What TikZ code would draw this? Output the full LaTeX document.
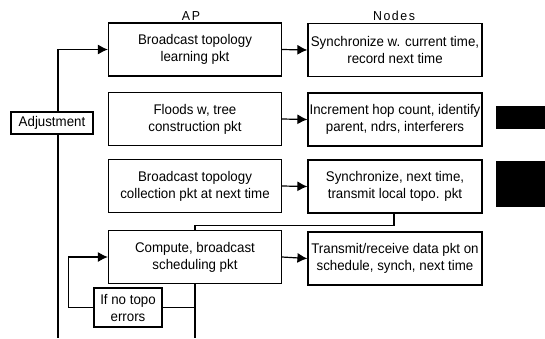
\documentclass[tikz,border=0pt]{standalone}
\usepackage{fontspec}
\setmainfont{Liberation Sans}[FakeStretch=0.95]
\usetikzlibrary{arrows.meta}

\begin{document}
\begin{tikzpicture}[x=1pt,y=-1pt,line width=1.2pt,
    >={Latex[length=10pt,width=10pt]},
    stagebox/.style={draw,align=center,minimum width=173pt,minimum height=53pt,inner sep=0pt,
      font=\fontsize{14}{17}\selectfont},
    sidebox/.style={draw,align=center,inner sep=0pt,font=\fontsize{14}{17}\selectfont},
    colhead/.style={anchor=base,font=\fontsize{13}{15}\selectfont\addfontfeature{LetterSpace=12}}]
  \useasboundingbox (0,0) rectangle (545,338);
  % column heads
  \node[colhead] (aphead) at (191,20.5) {AP};
  \node[colhead] (ndhead) at (394,20.5) {Nodes};
  % AP side
  \node[stagebox] (ap1) at (195,49.5) {Broadcast topology\\learning pkt};
  \node[stagebox] (ap2) at (195,119) {Floods w, tree\\construction pkt};
  \node[stagebox] (ap3) at (195,186) {Broadcast topology\\collection pkt at next time};
  \node[stagebox] (ap4) at (195,257) {Compute, broadcast\\scheduling pkt};
  % node side
  \node[stagebox,minimum width=174pt] (nd1) at (395,50) {Synchronize w. current time,\\record next time};
  \node[stagebox,minimum width=174pt] (nd2) at (395,119.5) {Increment hop count, identify\\parent, ndrs, interferers};
  \node[stagebox,minimum width=174pt] (nd3) at (395,186.5) {Synchronize, next time,\\transmit local topo. pkt};
  \node[stagebox,minimum width=174pt] (nd4) at (395,258.5) {Transmit/receive data pkt on\\schedule, synch, next time};
  % side boxes
  \node[sidebox,minimum width=82pt,minimum height=22pt] (adj) at (52,123) {Adjustment};
  \node[sidebox,minimum width=68pt,minimum height=39pt] (notopo) at (128,307.5) {If no topo\\errors};
  \coordinate (adjend) at (58,338);
  \coordinate (apend) at (195,338);
  % dark marks
  \fill (496,106) rectangle (545,129);
  \fill (496,161) rectangle (545,207);
  % connectors
  \foreach \i in {1,...,4}
    \draw[->] (ap\i.east) -- (nd\i.west);
  \draw[->] ([xshift=6pt]adj.north) |- (ap1.west);
  \draw ([xshift=6pt]adj.south) -- (adjend);
  \draw ([xshift=-1pt]nd3.south) -- ++(0,12) -| (ap4.north);
  \draw (ap4.south) -- (apend);
  \draw (notopo.east) -- (notopo.east -| apend);
  \draw[->] (notopo.west) -- ++(-25,0) |- (ap4.west);
\end{tikzpicture}
\end{document}
